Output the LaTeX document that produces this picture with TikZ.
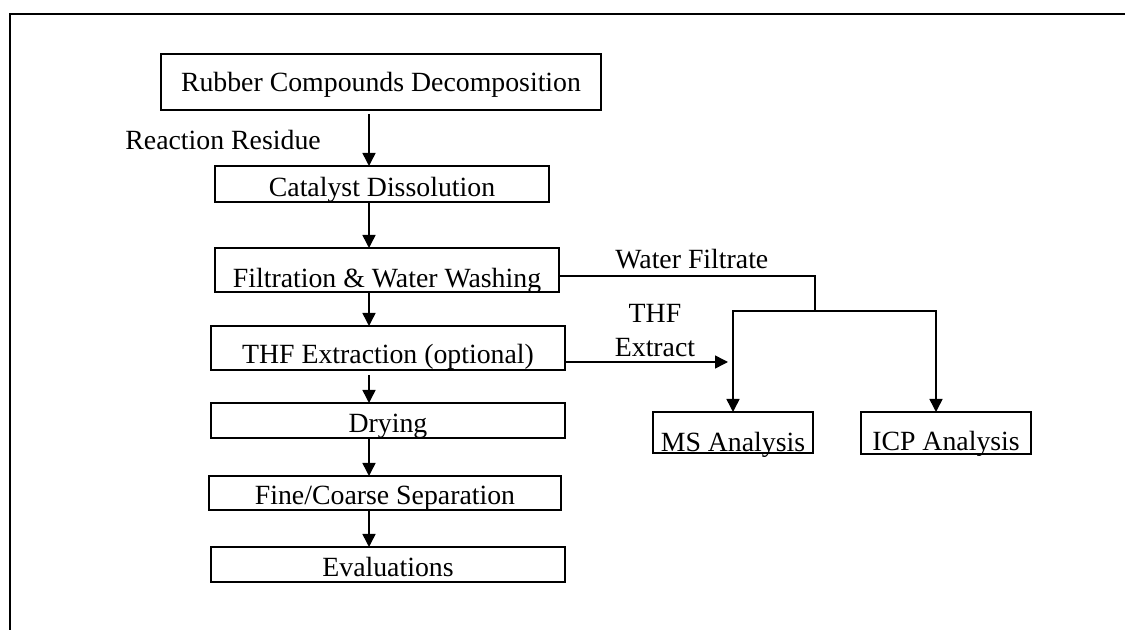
\documentclass[tikz,border=0pt]{standalone}
\usepackage{fontspec}
\setmainfont{Liberation Serif}
\usetikzlibrary{arrows.meta,calc}
\tikzset{
  stage/.style n args={3}{draw, line width=0.95pt, inner sep=0pt, outer sep=0pt, anchor=north west,
    minimum width=#1, text height=#2, text depth=#3},
  flow/.style={line width=0.75pt, -{Triangle[width=6.5pt,length=6.5pt]}},
  link/.style={line width=0.75pt},
  tag/.style={inner sep=0pt}
}

\begin{document}
\begin{tikzpicture}[x=0.5pt, y=-0.5pt, font=\fontsize{13.9}{17}\selectfont]%
\useasboundingbox (0,0) rectangle (1125,630);%
\draw[line width=1.1pt] (1125,14) -- (10,14) -- (10,630);%
\node[stage={220pt}{19pt}{9pt}] (rubber) at (161,54) {Rubber Compounds Decomposition};%
\node[stage={167pt}{15.5pt}{2.5pt}] (catalyst) at (215,166) {Catalyst Dissolution};%
\node[stage={172pt}{20pt}{2pt}] (filtration) at (215,248) {Filtration \& Water Washing};%
\node[stage={177pt}{19pt}{3pt}] (thf) at (211,326) {THF Extraction (optional)};%
\node[stage={177pt}{15pt}{2.5pt}] (drying) at (211,403) {Drying};%
\node[stage={176pt}{14.5pt}{2.5pt}] (separation) at (209,476) {Fine/Coarse Separation};%
\node[stage={177pt}{14.5pt}{3pt}] (evaluation) at (211,547) {Evaluations};%
\node[stage={80pt}{20pt}{0.5pt}] (ms) at (653,412) {MS Analysis};%
\node[stage={85pt}{19.5pt}{1.5pt}] (icp) at (861,412) {ICP Analysis};%
\coordinate (spine) at (369,0);%
\coordinate (split) at (815,311);%
\coordinate (thfend) at (728,362);%
\node[tag, anchor=base west] (residue) at (125,150) {Reaction Residue};%
\node[tag, anchor=base west] (filtrate) at (615,269) {Water Filtrate};%
\node[tag, align=center] (extract) at (655,331) {THF\\Extract};%
\draw[flow] ($(rubber.south -| spine)+(0,4)$) -- (catalyst.north -| spine);%
\draw[flow] (catalyst.south -| spine) -- (filtration.north -| spine);%
\draw[flow] (filtration.south -| spine) -- (thf.north -| spine);%
\draw[flow] ($(thf.south -| spine)+(0,5)$) -- (drying.north -| spine);%
\draw[flow] (drying.south -| spine) -- (separation.north -| spine);%
\draw[flow] (separation.south -| spine) -- (evaluation.north -| spine);%
\draw[link] ($(filtration.east)+(0,6)$) -| (split);%
\draw[flow] (split) -| (ms.north);%
\draw[flow] (split) -| ([xshift=-5pt]icp.north);%
\draw[flow] ($(thf.east)+(0,14)$) -- (thfend);%
\end{tikzpicture}
\end{document}
